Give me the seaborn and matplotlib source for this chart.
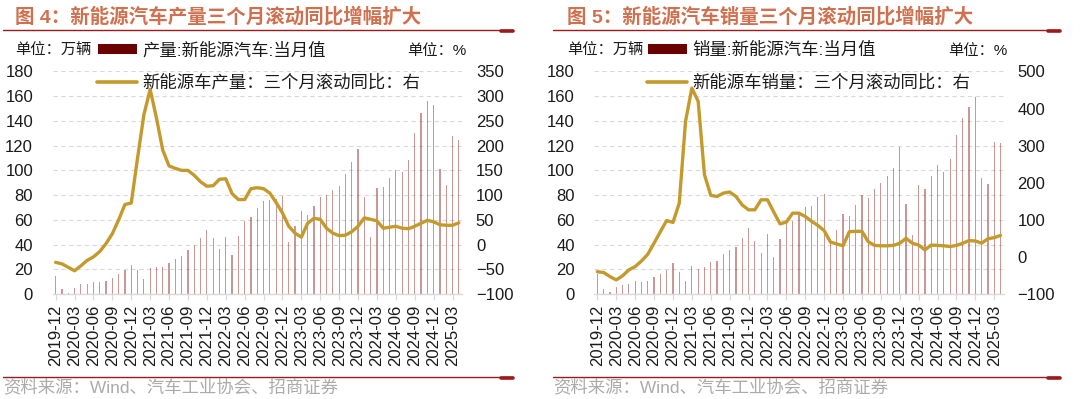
import numpy as np
import pandas as pd
import matplotlib
matplotlib.use("Agg")
import matplotlib.pyplot as plt
import seaborn as sns
from matplotlib.patches import Rectangle
from matplotlib.lines import Line2D

# ---------------- data ----------------
months = pd.period_range("2019-12", "2025-04", freq="M").strftime("%Y-%m").tolist()

prod_monthly = [14.9, 4.2, 1.0, 4.8, 7.8, 8.4, 9.8, 9.5, 10.5, 13.3,
                16.4, 19.5, 23.4, 19.5, 12.1, 21.3, 21.6, 21.8, 24.8, 28.3,
                31.0, 35.3, 40.0, 45.5, 51.4, 45.5, 36.5, 46.3, 31.2, 46.6,
                59.3, 62.0, 69.2, 75.3, 76.0, 76.5, 79.2, 42.3, 55.0, 67.0,
                63.6, 71.1, 78.1, 80.0, 84.0, 87.6, 97.0, 107.0, 117.0, 78.7,
                46.3, 86.0, 86.5, 93.5, 100.0, 98.3, 108.8, 130.0, 146.5, 156.2,
                152.7, 101.0, 88.4, 127.5, 124.5]
prod_yoy3m = [-36, -39, -46, -53, -43, -32, -25, -14, 2, 22,
              50, 81, 84, 175, 262, 314, 256, 191, 159, 154,
              150, 150, 140, 127, 118, 119, 132, 133, 103, 91,
              91, 113, 115, 113, 104, 85, 64, 37, 23, 15,
              43, 53, 51, 33, 23, 18, 19, 26, 37, 54,
              51, 48, 33, 35, 37, 33, 32, 37, 43, 49,
              46, 40, 39, 39, 44]

sales_monthly = [16.3, 4.3, 1.5, 5.4, 7.3, 8.1, 10.5, 10.0, 10.8, 13.6,
                 15.9, 19.6, 24.8, 17.9, 10.9, 22.6, 20.5, 21.5, 25.6, 27.0,
                 32.0, 35.6, 38.3, 45.0, 53.0, 43.0, 33.4, 48.5, 30.2, 44.7,
                 59.3, 59.3, 66.3, 70.6, 71.0, 78.7, 81.0, 42.0, 52.0, 64.7,
                 63.0, 71.7, 80.3, 78.0, 84.6, 90.0, 95.4, 102.0, 119.0, 72.5,
                 47.7, 88.0, 85.0, 95.4, 104.5, 98.6, 109.6, 128.5, 142.5, 150.9,
                 159.5, 94.0, 89.2, 123.0, 122.3]
sales_yoy3m = [-40, -42, -53, -62, -51, -35, -26, -11, 7, 37,
               68, 98, 93, 145, 366, 455, 420, 222, 166, 163,
               172, 175, 163, 140, 127, 127, 154, 154, 121, 89,
               94, 118, 118, 109, 96, 85, 71, 40, 35, 30,
               68, 69, 69, 41, 31, 30, 30, 31, 37, 50,
               37, 32, 19, 32, 31, 30, 28, 31, 37, 44,
               43, 37, 49, 52, 58]

titles = ["图 4：新能源汽车产量三个月滚动同比增幅扩大",
          "图 5：新能源汽车销量三个月滚动同比增幅扩大"]
bar_labels = ["产量:新能源汽车:当月值", "销量:新能源汽车:当月值"]
line_labels = ["新能源车产量：三个月滚动同比：右", "新能源车销量：三个月滚动同比：右"]
right_ylims = [(-100, 350), (-100, 500)]
right_steps = [50, 100]
source_text = "资料来源：Wind、汽车工业协会、招商证券"

# ---------------- style ----------------
sns.set_theme(style="white")
plt.rcParams["font.family"] = ["Liberation Sans", "Noto Sans CJK SC"]

BAR_C = "#8B1A1A"
LEG_BAR_C = "#6B0000"
GOLD = "#C49A2C"
TITLE_C = "#D0704E"
RULE_C = "#9B1B1B"
GRID_C = "#D9D9D9"
TEXT_C = "#1A1A1A"

W, H = 1080, 399
fig = plt.figure(figsize=(W / 100, H / 100), dpi=100)


def fx(px):
    return px / W


def fy(py):
    return 1 - py / H


panels = [
    dict(bars=prod_monthly, yoy=prod_yoy3m, ax_left=52.5, title_x=15, rule=(3, 513),
         unit_l=15, unit_r=407, leg_x=97),
    dict(bars=sales_monthly, yoy=sales_yoy3m, ax_left=594.2, title_x=567, rule=(553, 1060),
         unit_l=567, unit_r=948, leg_x=647),
]

n = len(months)
for i, p in enumerate(panels):
    df = pd.DataFrame({"month": months, "value": p["bars"], "yoy": p["yoy"], "idx": np.arange(n)})
    ax = fig.add_axes([fx(p["ax_left"]), fy(294), 409.5 / W, (294 - 71.5) / H])
    sns.barplot(data=df, x="month", y="value", ax=ax, color=BAR_C, width=0.2,
                saturation=1, alpha=0.45, linewidth=0)
    ax.set_ylim(0, 180)
    ax.set_yticks(np.arange(0, 181, 20))
    ax2 = ax.twinx()
    sns.lineplot(data=df, x="idx", y="yoy", ax=ax2, color=GOLD, lw=2.4)
    ax.set_xlim(-0.5, n - 0.5)
    lo, hi = right_ylims[i]
    ax2.set_ylim(lo, hi)
    ax2.set_yticks(np.arange(lo, hi + 1, right_steps[i]))

    ticks = list(range(0, n, 3))
    ax.set_xticks(ticks)
    ax.set_xticklabels([months[t] for t in ticks])
    ax.set_xlabel("")
    ax.set_ylabel("")
    ax2.set_xlabel("")
    ax2.set_ylabel("")

    ax.tick_params(axis="x", labelrotation=90, labelsize=12, length=4.5, width=0.8,
                   color=GRID_C, pad=3, labelcolor=TEXT_C, bottom=True)
    ax.tick_params(axis="y", labelsize=12, length=0, pad=14, labelcolor=TEXT_C)
    ax2.tick_params(axis="y", labelsize=12, length=0, pad=10, labelcolor=TEXT_C)

    for a in (ax, ax2):
        for s in ("top", "left", "right"):
            a.spines[s].set_visible(False)
    ax2.spines["bottom"].set_visible(False)
    ax.spines["bottom"].set_color(GRID_C)
    ax.spines["bottom"].set_linewidth(1.0)

    ax.yaxis.grid(True, color=GRID_C, linestyle=(0, (4, 3)), linewidth=0.8)
    ax.xaxis.grid(False)
    ax2.grid(False)
    ax.set_axisbelow(True)
    if ax2.get_legend() is not None:
        ax2.get_legend().remove()

    # title and rules
    fig.text(fx(p["title_x"]), fy(17), titles[i], fontsize=14, fontweight="bold",
             color=TITLE_C, ha="left", va="center")
    r0, r1 = p["rule"]
    for yy in (29.8, 377.3):
        fig.add_artist(Line2D([fx(r0), fx(r1)], [fy(yy), fy(yy)], color=RULE_C, lw=1.0))
        fig.add_artist(Line2D([fx(r1 - 12), fx(r1)], [fy(yy + 0.8), fy(yy + 0.8)],
                              color=RULE_C, lw=2.6))
    fig.text(fx(r0), fy(387), source_text, fontsize=12.5, color="#ABABAB",
             ha="left", va="center")

    # unit labels and legend
    fig.text(fx(p["unit_l"]), fy(51), "单位：万辆", fontsize=11, color=TEXT_C,
             ha="left", va="center")
    fig.text(fx(p["unit_r"]), fy(51), "单位：%", fontsize=11, color=TEXT_C,
             ha="left", va="center")
    lx = p["leg_x"]
    fig.add_artist(Rectangle((fx(lx + 1), fy(53.5)), 39 / W, 9 / H, color=LEG_BAR_C,
                             transform=fig.transFigure, lw=0))
    fig.text(fx(lx + 45), fy(50), bar_labels[i], fontsize=12.5, color=TEXT_C,
             ha="left", va="center")
    fig.add_artist(Line2D([fx(lx), fx(lx + 40)], [fy(82), fy(82)], color=GOLD, lw=2.6))
    fig.text(fx(lx + 45), fy(82), line_labels[i], fontsize=12.5, color=TEXT_C,
             ha="left", va="center")

fig.savefig("out.png", dpi=100)
